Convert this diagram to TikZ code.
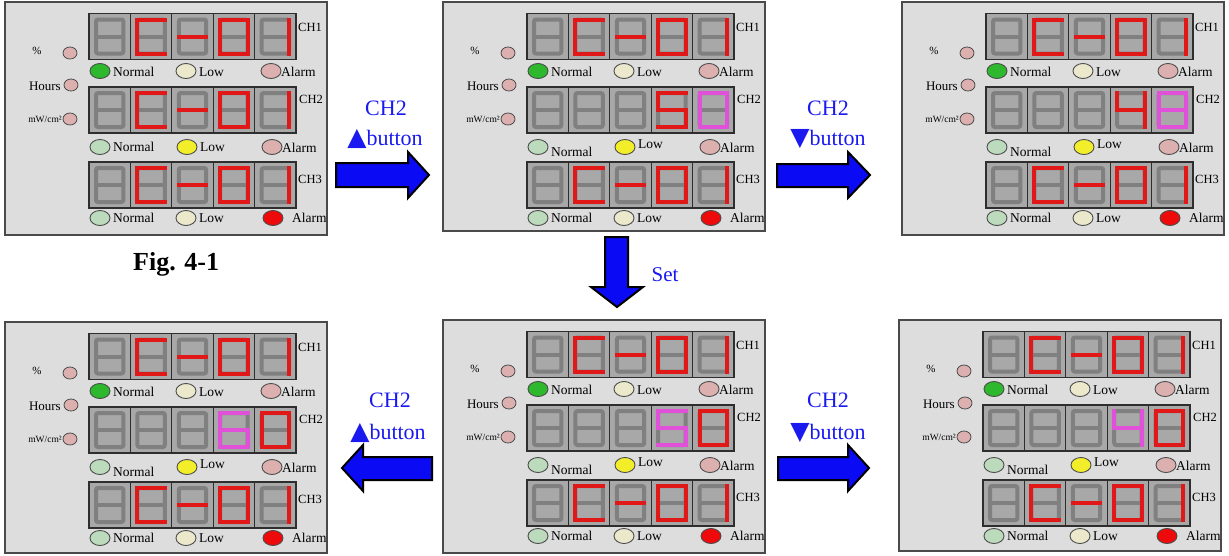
\documentclass[tikz,border=0pt]{standalone}
\usepackage{fontspec}
\setmainfont{Liberation Serif}
\newfontfamily\symfnt{DejaVu Sans}
\usetikzlibrary{shapes.geometric}
\definecolor{panelbg}{HTML}{DDDDDD}
\definecolor{panelframe}{HTML}{4A4A4A}
\definecolor{cellbg}{HTML}{A8A8A8}
\definecolor{segoffc}{HTML}{808080}
\definecolor{rowframec}{HTML}{2E2E2E}
\definecolor{segred}{HTML}{E01818}
\definecolor{segmag}{HTML}{E050D8}
\definecolor{ledgreen}{HTML}{2DB82D}
\definecolor{ledpalegreen}{HTML}{BCDABC}
\definecolor{ledcream}{HTML}{ECE8CC}
\definecolor{ledyellow}{HTML}{F2EE2A}
\definecolor{ledpink}{HTML}{DDB0B0}
\definecolor{ledred}{HTML}{EE0A0A}
\definecolor{arrowblue}{HTML}{0A0AF5}
\definecolor{labelblue}{HTML}{1A1AF0}
\tikzset{
  panel/.style={rectangle, draw=panelframe, fill=panelbg, line width=1.3pt, minimum width=322pt, inner sep=0pt, outer sep=0pt, anchor=north west},
  led/.style={ellipse, draw=black!70, line width=0.9pt, minimum width=20pt, minimum height=15pt, inner sep=0pt},
  sled/.style={ellipse, draw=black!70, line width=0.8pt, fill=ledpink, minimum width=14pt, minimum height=12pt, inner sep=0pt},
  ptxt/.style={font=\fontsize{13.5}{13.5}\selectfont, inner sep=0pt, anchor=west},
  stxt/.style={font=\fontsize{13}{13}\selectfont, inner sep=0pt},
  chtxt/.style={font=\fontsize{12.5}{12.5}\selectfont, inner sep=0pt, anchor=west},
  segoffline/.style={draw=segoffc, line width=4pt, rounded corners=2pt},
  segon/.style={line width=4pt, line cap=rect},
  rowframe/.style={draw=rowframec, line width=1.2pt},
  blockarrow/.style={fill=arrowblue, draw=black, line width=2pt, line join=miter},
  btn/.style={text=labelblue, font=\fontsize{22}{22}\selectfont, inner sep=0pt},
}
\newcommand\tri[1]{{\symfnt\fontsize{25}{25}\selectfont #1}}
\newcommand\digC{TL/TR,TL/ML,ML/BL,BL/BR}
\newcommand\digDash{ML/MR}
\newcommand\digZero{TL/TR,TR/MR,MR/BR,BL/BR,ML/BL,TL/ML}
\newcommand\digOne{TR/MR,MR/BR}
\newcommand\digFive{TL/TR,TL/ML,ML/MR,MR/BR,BL/BR}
\newcommand\digFour{TL/ML,ML/MR,TR/MR,MR/BR}
\newcommand\digSix{TL/TR,TL/ML,ML/MR,MR/BR,BL/BR,ML/BL}
\newcommand\digEight{TL/TR,TR/MR,MR/BR,BL/BR,ML/BL,TL/ML,ML/MR}
% one LCD cell: x, y, colour, segment list
\newcommand\lcdcell[4]{%
  \begin{scope}[shift={(#1,#2)}]
    \fill[cellbg] (0,0) rectangle (41.4,46);
    \draw[segoffline] (7,6) rectangle (34.4,40);
    \draw[segoffline] (7,23) -- (34.4,23);
    \coordinate (TL) at (7,6);  \coordinate (TR) at (34.4,6);
    \coordinate (ML) at (7,23); \coordinate (MR) at (34.4,23);
    \coordinate (BL) at (7,40); \coordinate (BR) at (34.4,40);
    \ifx\relax#4\relax\else
      \foreach \u/\v in #4 {\draw[segon,#3] (\u) -- (\v);}
    \fi
  \end{scope}}
\newcommand\rowframe[1]{%
  \draw[rowframe] (84,#1) rectangle (291,#1+46);
  \foreach \k in {1,2,3,4} {\draw[rowframe] (84+41.4*\k,#1) -- ++(0,46);}}
\newcommand\rowCO[1]{%
  \lcdcell{84}{#1}{segred}{}%
  \lcdcell{125.4}{#1}{segred}{\digC}%
  \lcdcell{166.8}{#1}{segred}{\digDash}%
  \lcdcell{208.2}{#1}{segred}{\digZero}%
  \lcdcell{249.6}{#1}{segred}{\digOne}%
  \rowframe{#1}}
\newcommand\rowCHtwo[5]{%
  \lcdcell{84}{#1}{segred}{}%
  \lcdcell{125.4}{#1}{segred}{}%
  \lcdcell{166.8}{#1}{segred}{}%
  \lcdcell{208.2}{#1}{#2}{#3}%
  \lcdcell{249.6}{#1}{#4}{#5}%
  \rowframe{#1}}
% panel: name, x, y, height, row-2 code, row-2 text shift
\newcommand\lcdpanel[6]{%
  \node[panel, minimum height=#4pt] (#1) at (#2,#3) {};
  \begin{scope}[shift={(#2,#3)}]
    % unit indicators
    \node[sled] (#1-l1) at (65,51) {};
    \node[sled] (#1-l2) at (66,83) {};
    \node[sled] (#1-l3) at (65,117) {};
    \node[stxt, font=\fontsize{11}{11}\selectfont] (#1-u1) at (32,49) {\%};
    \node[stxt, anchor=east] (#1-u2) at (56,84) {Hours};
    \node[stxt, anchor=east, font=\fontsize{9.5}{9.5}\selectfont] (#1-u3) at (57,117) {mW/cm²};
    % channel 1
    \rowCO{11.5}
    \node[chtxt] (#1-ch1) at (293,25) {CH1};
    \node[led, fill=ledgreen] (#1-n1) at (95,69) {};
    \node[ptxt] (#1-tn1) at (108,70) {Normal};
    \node[led, fill=ledcream] (#1-w1) at (181,69) {};
    \node[ptxt] (#1-tw1) at (194,70) {Low};
    \node[led, fill=ledpink] (#1-a1) at (266,69) {};
    \node[ptxt] (#1-ta1) at (276,70) {Alarm};
    % channel 2
    #5
    \node[chtxt] (#1-ch2) at (294,97) {CH2};
    \node[led, fill=ledpalegreen] (#1-n2) at (95,145) {};
    \node[ptxt] (#1-tn2) at (108,145+#6) {Normal};
    \node[led, fill=ledyellow] (#1-w2) at (182,145) {};
    \node[ptxt] (#1-tw2) at (195,145-#6/2) {Low};
    \node[led, fill=ledpink] (#1-a2) at (267,145) {};
    \node[ptxt] (#1-ta2) at (277,146) {Alarm};
    % channel 3
    \rowCO{160}
    \node[chtxt] (#1-ch3) at (293,177) {CH3};
    \node[led, fill=ledpalegreen] (#1-n3) at (95,216) {};
    \node[ptxt] (#1-tn3) at (108,216) {Normal};
    \node[led, fill=ledcream] (#1-w3) at (181,216) {};
    \node[ptxt] (#1-tw3) at (194,216) {Low};
    \node[led, fill=ledred] (#1-a3) at (268,216) {};
    \node[ptxt] (#1-ta3) at (287,216) {Alarm};
  \end{scope}}
\begin{document}
\begin{tikzpicture}[x=1pt, y=-1pt]
\fill[white] (0,0) rectangle (1229,555);
\useasboundingbox (0,0) rectangle (1229,555);

\lcdpanel{p1}{5}{2}{233}{\rowCO{85}}{0}
\lcdpanel{p2}{443}{2}{229}{\rowCHtwo{85}{segred}{\digFive}{segmag}{\digZero}}{5}
\lcdpanel{p3}{902}{2}{233}{\rowCHtwo{85}{segred}{\digFour}{segmag}{\digEight}}{5}
\lcdpanel{p4}{5}{322}{231}{\rowCHtwo{85}{segmag}{\digSix}{segred}{\digZero}}{5}
\lcdpanel{p5}{443}{320}{233}{\rowCHtwo{85}{segmag}{\digFive}{segred}{\digZero}}{5}
\lcdpanel{p6}{899}{320}{231}{\rowCHtwo{85}{segmag}{\digFour}{segred}{\digZero}}{5}

% block arrows
\draw[blockarrow] (336,163) -- (408,163) -- (408,152) -- (429,175) -- (408,198) -- (408,187) -- (336,187) -- cycle;
\draw[blockarrow] (777,164) -- (848,164) -- (848,152) -- (870,175) -- (848,198) -- (848,187) -- (777,187) -- cycle;
\draw[blockarrow] (605,237) -- (628,237) -- (628,287) -- (643,287) -- (617,307) -- (591,287) -- (605,287) -- cycle;
\draw[blockarrow] (432,457) -- (363,457) -- (363,445) -- (342,468) -- (363,491) -- (363,480) -- (432,480) -- cycle;
\draw[blockarrow] (778,457) -- (848,457) -- (848,445) -- (869,468) -- (848,491) -- (848,480) -- (778,480) -- cycle;

% arrow labels
\node[btn] (l1a) at (386,108) {CH2};
\node[btn, anchor=base] (l1b) at (385,145) {\tri{▲}button};
\node[btn] (l2a) at (828,108) {CH2};
\node[btn, anchor=base] (l2b) at (828,145) {\tri{▼}button};
\node[btn, font=\fontsize{21}{21}\selectfont] (l3) at (665,275) {Set};
\node[btn] (l4a) at (390,400) {CH2};
\node[btn, anchor=base] (l4b) at (388,439) {\tri{▲}button};
\node[btn] (l5a) at (828,400) {CH2};
\node[btn, anchor=base] (l5b) at (828,439) {\tri{▼}button};

\node[font=\bfseries\fontsize{26}{26}\selectfont, inner sep=0pt, anchor=base west] (fig) at (133,270) {Fig. 4-1};
\end{tikzpicture}
\end{document}
